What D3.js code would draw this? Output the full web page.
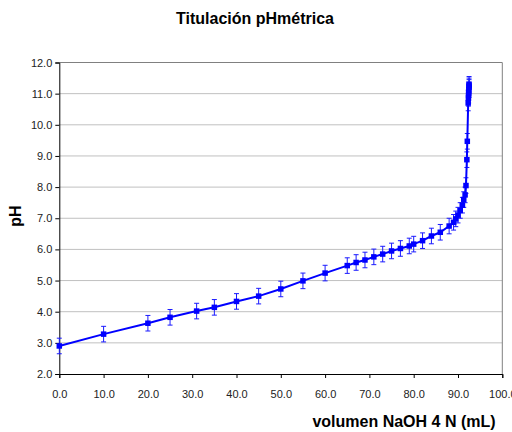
<!DOCTYPE html>
<html>
<head>
<meta charset="utf-8">
<script src="https://cdn.jsdelivr.net/npm/d3@7"></script>
<style>
    body { margin: 0; background: #fff; }
    svg { display: block; font-family: "Liberation Sans", Arial, sans-serif; }
</style>
</head>
<body>
<svg id="chart" width="512" height="432"></svg>
<script>
// Titration data
const volumes = [0, 10, 20, 25, 31, 35, 40, 45, 50, 55, 60, 65, 67, 69, 71, 73, 75, 77, 79, 80, 82, 84, 86,
    88, 89, 89.5, 90, 90.5, 91, 91.3, 91.6, 91.8, 92.0, 92.1,
    92.3, 92.35, 92.4, 92.4, 92.45, 92.5, 92.5, 92.5];
const phValues = [2.9, 3.28, 3.63, 3.82, 4.02, 4.14, 4.33, 4.5, 4.73, 4.99, 5.24, 5.48, 5.58, 5.66, 5.76, 5.85, 5.95, 6.03, 6.11, 6.17, 6.28, 6.43, 6.55,
    6.75, 6.87, 6.98, 7.1, 7.25, 7.42, 7.6, 7.75, 8.05, 8.88, 9.47,
    10.7, 10.85, 10.95, 11.05, 11.12, 11.2, 11.25, 11.3];
const phError = 0.25;

const xTicks = [0, 10, 20, 30, 40, 50, 60, 70, 80, 90, 100];
const yTicks = [2, 3, 4, 5, 6, 7, 8, 9, 10, 11, 12];

const titleText = 'Titulación pHmétrica';
const xLabel = 'volumen NaOH 4 N (mL)';
const yLabel = 'pH';

const svg = d3.select('#chart');
const plotLeft = 59.3, plotRight = 502.3, plotTop = 62.5, plotBottom = 374;

const x = d3.scaleLinear().domain([0, 100]).range([plotLeft, plotRight]);
const y = d3.scaleLinear().domain([2, 12]).range([plotBottom, plotTop]);

const points = volumes.map((v, i) => ({ v: v, ph: phValues[i] }));

// Gridlines
svg.append('g')
    .selectAll('line')
    .data(yTicks.slice(1))
    .enter().append('line')
    .attr('x1', plotLeft).attr('x2', plotRight)
    .attr('y1', d => y(d)).attr('y2', d => y(d))
    .attr('stroke', d => d === 12 ? '#808080' : '#c0c0c0')
    .attr('stroke-width', 1);

// Right border of the plot area
svg.append('line')
    .attr('x1', plotRight).attr('x2', plotRight)
    .attr('y1', plotTop).attr('y2', plotBottom)
    .attr('stroke', '#808080');

// Axes
const xAxis = svg.append('g')
    .attr('transform', `translate(0,${plotBottom})`)
    .call(d3.axisBottom(x).tickValues(xTicks).tickFormat(d3.format('.1f')).tickSize(4).tickPadding(12));

const yAxis = svg.append('g')
    .attr('transform', `translate(${plotLeft},0)`)
    .call(d3.axisLeft(y).tickValues(yTicks).tickFormat(d3.format('.1f')).tickSize(4).tickPadding(3));

[xAxis, yAxis].forEach(a => {
    a.select('.domain').attr('stroke', '#000');
    a.selectAll('.tick line').attr('stroke', '#000');
    a.selectAll('.tick text')
        .attr('fill', '#222')
        .attr('font-size', 11)
        .attr('font-family', '"Liberation Sans", Arial, sans-serif');
});

// Error bars
const bars = svg.append('g').attr('stroke', '#1a1aff').attr('stroke-width', 1);
bars.selectAll('.eb')
    .data(points)
    .enter().append('path')
    .attr('fill', 'none')
    .attr('d', d => {
        const cx = x(d.v), y1 = y(d.ph + phError), y2 = y(d.ph - phError);
        return `M${cx},${y1}V${y2}M${cx - 2.5},${y1}H${cx + 2.5}M${cx - 2.5},${y2}H${cx + 2.5}`;
    });

// Line
svg.append('path')
    .datum(points)
    .attr('fill', 'none')
    .attr('stroke', '#0000ff')
    .attr('stroke-width', 2)
    .attr('d', d3.line().x(d => x(d.v)).y(d => y(d.ph)));

// Markers
svg.append('g')
    .selectAll('rect')
    .data(points)
    .enter().append('rect')
    .attr('x', d => x(d.v) - 2.75)
    .attr('y', d => y(d.ph) - 2.75)
    .attr('width', 5.5)
    .attr('height', 5.5)
    .attr('fill', '#0000ff');

// Titles
svg.append('text')
    .attr('x', 255).attr('y', 24)
    .attr('text-anchor', 'middle')
    .attr('font-size', 16)
    .attr('font-weight', 'bold')
    .attr('fill', '#000')
    .text(titleText);

svg.append('text')
    .attr('x', 404).attr('y', 427)
    .attr('text-anchor', 'middle')
    .attr('font-size', 16)
    .attr('font-weight', 'bold')
    .attr('fill', '#000')
    .text(xLabel);

svg.append('text')
    .attr('transform', 'translate(21,216) rotate(-90)')
    .attr('text-anchor', 'middle')
    .attr('font-size', 16)
    .attr('font-weight', 'bold')
    .attr('fill', '#000')
    .text(yLabel);
</script>
</body>
</html>
